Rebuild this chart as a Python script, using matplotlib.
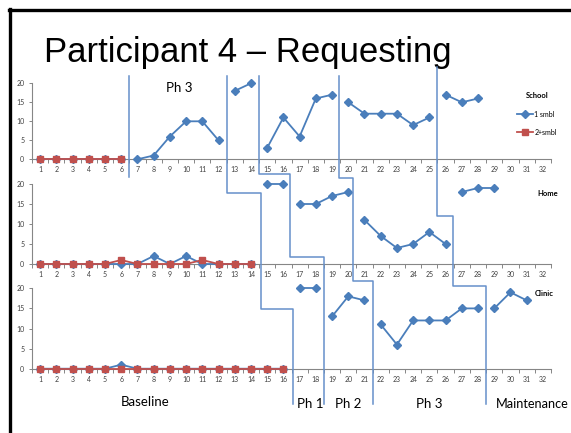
import numpy as np
import matplotlib
matplotlib.use("Agg")
import matplotlib.pyplot as plt
from matplotlib.lines import Line2D
from matplotlib.transforms import blended_transform_factory

nan = np.nan
sessions = list(range(1, 33))

# 1 symbol requests (blue) per setting, nan = no session
school_1 = [0, 0, 0, 0, 0, 0, 0, 1, 6, 10, 10, 5, 18, 20, 3, 11, 6, 16, 17, 15,
            12, 12, 12, 9, 11, 17, 15, 16, nan, nan, nan, nan]
home_1 = [0, 0, 0, 0, 0, 0, 0, 2, 0, 2, 0, 0, 0, 0, 20, 20, 15, 15, 17, 18,
          11, 7, 4, 5, 8, 5, 18, 19, 19, nan, nan, nan]
clinic_1 = [0, 0, 0, 0, 0, 1, 0, 0, 0, 0, 0, 0, 0, 0, 0, 0, 20, 20, 13, 18,
            17, 11, 6, 12, 12, 12, 15, 15, 15, 19, 17, nan]
# 2+ symbol requests (red), baseline only
school_2 = [0, 0, 0, 0, 0, 0] + [nan] * 26
home_2 = [0, 0, 0, 0, 0, 1, 0, 0, 0, 0, 1, 0, 0, 0] + [nan] * 18
clinic_2 = [0] * 16 + [nan] * 16

# phase change points per setting
school_breaks = [6.5, 12.5, 14.5, 19.5, 25.5]
home_breaks = [14.5, 16.5, 20.5, 26.5]
clinic_breaks = [16.5, 18.5, 21.5, 28.5]

settings = ["School", "Home", "Clinic"]
series_names = ["1 smbl", "2+smbl"]
title = "Participant 4 \u2013 Requesting"

BLUE = "#4A7EBB"
RED = "#C0504D"
PHASE = "#6690CA"
GRID = "#868686"

W, H = 571, 433
fig = plt.figure(figsize=(W / 100, H / 100), dpi=100)
fig.patch.set_facecolor("white")


def fy(p):
    return (H - p) / H


# panel placements (pixel rows for y=20 and y=0)
panels = [(83.3, 159.3), (184.0, 264.0), (288.3, 368.7)]
axes = []
for top, bot in panels:
    ax = fig.add_axes([32 / W, fy(bot), (551 - 32) / W, (bot - top) / H])
    axes.append(ax)

data = [(school_1, school_2, school_breaks),
        (home_1, home_2, home_breaks),
        (clinic_1, clinic_2, clinic_breaks)]


def segments(vals, breaks):
    x = np.array(sessions, dtype=float)
    v = np.array(vals, dtype=float)
    edges = [0] + list(breaks) + [40]
    for a, b in zip(edges[:-1], edges[1:]):
        m = (x > a) & (x < b) & ~np.isnan(v)
        if m.any():
            yield x[m], v[m]


for ax, (s1, s2, br) in zip(axes, data):
    for xs, ys in segments(s1, br):
        ax.plot(xs, ys, color=BLUE, lw=1.3, marker="D", ms=3.6, mfc=BLUE,
                mec=BLUE, clip_on=False, zorder=3)
    for xs, ys in segments(s2, br):
        ax.plot(xs, ys, color=RED, lw=1.3, marker="s", ms=4.6, mfc=RED,
                mec=RED, clip_on=False, zorder=4)
    ax.set_xlim(0.5, 32.5)
    ax.set_ylim(0, 20)
    for sp in ["top", "right"]:
        ax.spines[sp].set_visible(False)
    for sp in ["left", "bottom"]:
        ax.spines[sp].set_color(GRID)
        ax.spines[sp].set_linewidth(0.8)
    ax.set_yticks([0, 5, 10, 15, 20])
    ax.set_xticks(sessions)
    ax.set_xticks(np.arange(0.5, 33, 1), minor=True)
    ax.tick_params(axis="x", which="major", length=0, pad=5, labelsize=5,
                   labelcolor="#404040")
    ax.tick_params(axis="x", which="minor", length=3, color=GRID, width=0.7)
    ax.tick_params(axis="y", length=2.5, color=GRID, width=0.7, pad=3,
                   labelsize=5, labelcolor="#404040")
    for lab in ax.get_xticklabels() + ax.get_yticklabels():
        lab.set_fontfamily("Lato")
    ax.set_facecolor("none")

# legend for top panel
handles = [Line2D([0], [0], color=BLUE, lw=1.3, marker="D", ms=3.6),
           Line2D([0], [0], color=RED, lw=1.3, marker="s", ms=4.6)]
leg = axes[0].legend(handles, series_names, title=settings[0],
                     loc="upper left", bbox_to_anchor=(514 / W, fy(89)),
                     bbox_transform=fig.transFigure, frameon=False,
                     prop={"family": "Lato", "size": 5}, handlelength=2.3,
                     handletextpad=0.1, labelspacing=1.6, borderpad=0,
                     title_fontproperties={"family": "Lato", "size": 5.5,
                                           "weight": "bold"})
leg._legend_box.sep = 8

axes[1].text(537 / W, fy(193.5), settings[1], transform=fig.transFigure,
             fontfamily="Lato", fontsize=5.5, fontweight="bold", va="center")
axes[2].text(535 / W, fy(294), settings[2], transform=fig.transFigure,
             fontfamily="Lato", fontsize=5.5, fontweight="bold", va="center")

# stepped phase-change lines: x in data units, y in pixel rows
tr = blended_transform_factory(axes[0].transData, fig.transFigure)
phase_lines = [
    [(6.5, 76), (6.5, 177)],
    [(12.5, 76), (12.5, 193), (14.6, 193), (14.6, 309), (16.6, 309), (16.6, 404)],
    [(14.5, 76), (14.5, 174.3), (16.4, 174.3), (16.4, 257.3), (18.5, 257.3), (18.5, 404)],
    [(19.4, 76), (19.4, 177.7), (20.3, 177.7), (20.3, 281), (21.5, 281), (21.5, 404)],
    [(25.5, 67), (25.5, 216), (26.45, 216), (26.45, 285.5), (28.5, 285.5), (28.5, 404)],
]
for pl in phase_lines:
    xs = [p[0] for p in pl]
    ys = [fy(p[1]) for p in pl]
    fig.add_artist(Line2D(xs, ys, transform=tr, color=PHASE, lw=1.1,
                          clip_on=False, zorder=5))

# phase labels
lab_kw = dict(transform=tr, fontfamily="Lato", color="black", va="center")
fig.text(9.6, fy(88), "Ph 3", ha="center", fontsize=9.5, **lab_kw)
fig.text(7.45, fy(402), "Baseline", ha="center", fontsize=9.5, **lab_kw)
fig.text(17.64, fy(404), "Ph 1", ha="center", fontsize=9.5, **lab_kw)
fig.text(20.0, fy(404), "Ph 2", ha="center", fontsize=9.5, **lab_kw)
fig.text(25.0, fy(404), "Ph 3", ha="center", fontsize=9.5, **lab_kw)
fig.text(29.1, fy(404), "Maintenance", ha="left", fontsize=9.2, **lab_kw)

# title
fig.text(44 / W, fy(61.7), title, fontfamily="Liberation Sans", fontsize=25,
         va="baseline", ha="left")

# slide border
fig.add_artist(Line2D([9 / W, 1.0], [fy(10), fy(10)], transform=fig.transFigure,
                      color="black", lw=2.4))
fig.add_artist(Line2D([10 / W, 10 / W], [fy(9), 0], transform=fig.transFigure,
                      color="black", lw=2.4))

fig.savefig("out.png", dpi=100)
